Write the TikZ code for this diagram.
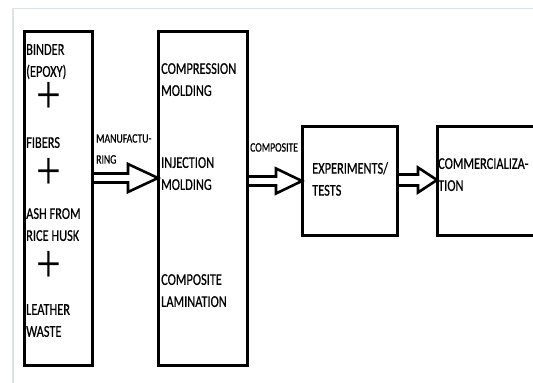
\documentclass[tikz,border=0pt]{standalone}
\usepackage{graphicx}
\usepackage{fontspec}
\setmainfont{Carlito}[FakeStretch=0.75, FakeBold=0.5]
\newfontfamily\plusfont{Liberation Serif}
\usetikzlibrary{calc}
\definecolor{framegray}{HTML}{DCE1EA}

\begin{document}
\begin{tikzpicture}[x=1pt, y=-1pt,
  stage/.style={draw, line width=3pt, inner sep=0pt, outer sep=0pt},
  txt/.style={anchor=north west, inner sep=0pt, align=left, font=\fontsize{16.5}{22}\selectfont},
  lbl/.style={anchor=north west, inner sep=0pt, align=left, font=\fontsize{13}{21}\selectfont},
  plus/.style={inner sep=0pt, font=\plusfont\fontsize{44}{44}\selectfont},
  fat/.style={draw, line width=2.6pt, line join=miter}]
\useasboundingbox (0,0) rectangle (533,383);
\clip (0,0) rectangle (533,383);
% page frame
\draw[framegray, line width=1.6pt] (13,383) -- (13,8.5) -- (533,8.5);
% stages
\node[stage, minimum width=68pt, minimum height=334pt] (mix) at (58,198) {};
\node[stage, minimum width=89pt, minimum height=334pt] (mold) at (202.5,198) {};
\node[stage, minimum width=95pt, minimum height=109pt] (test) at (349.5,180.5) {};
\node[stage, minimum width=133pt, minimum height=109pt] (market) at (503.5,180.5) {};
% ingredients
\node[txt] (binder) at (26,44) {BINDER\\(EPOXY)};
\node[plus] (p1) at (49,98) {\scalebox{1}[1.25]{+}};
\node[txt] (fibers) at (26,137) {FIBERS};
\node[plus] (p2) at (49,174) {\scalebox{1}[1.25]{+}};
\node[txt] (ash) at (26,208) {ASH FROM\\RICE HUSK};
\node[plus] (p3) at (49,267) {\scalebox{1}[1.25]{+}};
\node[txt] (leather) at (26,304) {LEATHER\\WASTE};
% processes
\node[txt] (compr) at (161,63) {COMPRESSION\\MOLDING};
\node[txt] (inj) at (161,157) {INJECTION\\MOLDING};
\node[txt] (lam) at (161,274) {COMPOSITE\\LAMINATION};
\node[txt] (exp) at (312,162) {EXPERIMENTS/\\TESTS};
\node[txt] (comm) at (438,158) {COMMERCIALIZA-\\TION};
% arrow labels
\node[lbl] (manuf) at (96,134) {MANUFACTU-\\RING};
\node[lbl] (compo) at (250,143) {COMPOSITE};
% block arrows
\coordinate (y1) at (0,178);
\coordinate (y2) at (0,181);
\coordinate (y3) at (0,180);
\draw[fat] ($(mix.east|-y1)+(0,-4.5)$) -- ($(mold.west|-y1)+(-30,-4.5)$) -- ++(0,-9.5)
  -- (mold.west|-y1) -- ($(mold.west|-y1)+(-30,14)$) -- ++(0,-9.5) -- ($(mix.east|-y1)+(0,4.5)$);
\draw[fat] ($(mold.east|-y2)+(0,-4.5)$) -- ($(test.west|-y2)+(-26,-4.5)$) -- ++(0,-8)
  -- (test.west|-y2) -- ($(test.west|-y2)+(-26,12.5)$) -- ++(0,-8) -- ($(mold.east|-y2)+(0,4.5)$);
\draw[fat] ($(test.east|-y3)+(0,-5.5)$) -- ($(market.west|-y3)+(-19,-5.5)$) -- ++(0,-7)
  -- (market.west|-y3) -- ($(market.west|-y3)+(-19,12.5)$) -- ++(0,-7) -- ($(test.east|-y3)+(0,5.5)$);
\end{tikzpicture}
\end{document}
